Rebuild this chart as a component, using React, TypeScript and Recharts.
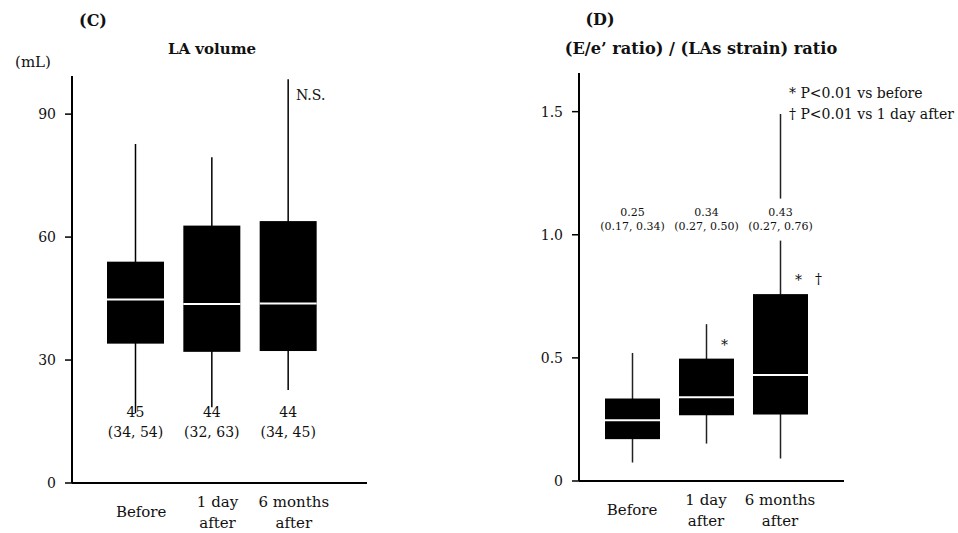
import { ComposedChart, Bar, XAxis, YAxis } from 'recharts';

const groups = ['Before', '1 day after', '6 months after'];
const groupLines = [['Before'], ['1 day', 'after'], ['6 months', 'after']];

// (C) LA volume, mL
const laMin = [17, 18.5, 22.7];
const laQ1 = [34, 32, 32.2];
const laMedian = [44.8, 43.7, 43.8];
const laQ3 = [54, 62.8, 63.9];
const laMax = [82.7, 79.5, 98.5];
const laMedianText = ['45', '44', '44'];
const laRangeText = ['(34, 54)', '(32, 63)', '(34, 45)'];
const laTicks = [0, 30, 60, 90];

// (D) (E/e' ratio) / (LAs strain) ratio
const ratioMin = [0.075, 0.152, 0.091];
const ratioQ1 = [0.17, 0.267, 0.27];
const ratioMedian = [0.247, 0.34, 0.43];
const ratioQ3 = [0.335, 0.497, 0.759];
const ratioMax = [0.52, 0.637, 1.49];
const ratioMedianText = ['0.25', '0.34', '0.43'];
const ratioRangeText = ['(0.17, 0.34)', '(0.27, 0.50)', '(0.27, 0.76)'];
const ratioMarks = ['', '*', '*'];
const ratioDagger = ['', '', '†'];
const ratioTicks = [0, 0.5, 1.0, 1.5];

const FONT = '"DejaVu Serif", serif';

const buildRows = (mins, q1s, meds, q3s, maxs, medTxt, rangeTxt, marks = [], daggers = []) =>
  groups.map((name, i) => ({
    name,
    range: [mins[i], maxs[i]],
    q1: q1s[i],
    median: meds[i],
    q3: q3s[i],
    medTxt: medTxt[i],
    rangeTxt: rangeTxt[i],
    mark: marks[i] || '',
    dagger: daggers[i] || '',
  }));

const laRows = buildRows(laMin, laQ1, laMedian, laQ3, laMax, laMedianText, laRangeText);
const ratioRows = buildRows(
  ratioMin, ratioQ1, ratioMedian, ratioQ3, ratioMax,
  ratioMedianText, ratioRangeText, ratioMarks, ratioDagger
);

const BoxShape = (props: any) => {
  const { x, y, width, height, payload, labelAt, labelFont, labelGap, labelBg, whiskerColor } = props;
  const top = Math.min(y, y + height);
  const h = Math.abs(height);
  const [lo, hi] = payload.range;
  const py = (v: number) => top + (h * (hi - v)) / (hi - lo);
  const cx = x + width / 2;
  const yq1 = py(payload.q1);
  const yq3 = py(payload.q3);
  const ym = py(payload.median);
  const yl = py(labelAt);
  return (
    <g>
      <line x1={cx} x2={cx} y1={py(hi)} y2={py(lo)} stroke={whiskerColor} strokeWidth={1.5} />
      <rect x={x} y={yq3} width={width} height={yq1 - yq3} fill="#000" />
      <line x1={x} x2={x + width} y1={ym} y2={ym} stroke="#fff" strokeWidth={2} />
      {labelBg && (
        <rect x={cx - 34} y={yl - 14} width={68} height={labelGap + 28} fill="#fff" />
      )}
      <text x={cx} y={yl} textAnchor="middle" dominantBaseline="central" fontFamily={FONT} fontSize={labelFont} fill="#111">
        {payload.medTxt}
      </text>
      <text x={cx} y={yl + labelGap} textAnchor="middle" dominantBaseline="central" fontFamily={FONT} fontSize={labelFont} fill="#111">
        {payload.rangeTxt}
      </text>
      {payload.mark && (
        <text x={cx + 18} y={yq3 - 9} textAnchor="middle" fontFamily={FONT} fontSize={14} fill="#111">
          {payload.mark}
        </text>
      )}
      {payload.dagger && (
        <text x={cx + 38} y={yq3 - 10} textAnchor="middle" fontFamily={FONT} fontSize={14} fill="#111">
          {payload.dagger}
        </text>
      )}
    </g>
  );
};

const GroupTick = (props: any) => {
  const { x, y, payload, shift = 0 } = props;
  const lines = groupLines[groups.indexOf(payload.value)] || [payload.value];
  const starts = lines.length === 1 ? [29] : [19, 40];
  return (
    <g>
      {lines.map((t, i) => (
        <text key={i} x={x + shift} y={y + starts[i]} textAnchor="middle" dominantBaseline="central" fontFamily={FONT} fontSize={15} fill="#111">
          {t}
        </text>
      ))}
    </g>
  );
};

const axisStyle = { stroke: '#000', strokeWidth: 2 };
const tickStyle = { fontFamily: FONT, fontSize: 14, fill: '#111' };

export default function App() {
  return (
    <div style={{ position: 'absolute', left: 0, top: 0, width: 958, height: 533, background: '#fff' }}>
      <div style={{ position: 'absolute', left: 0, top: 0 }}>
        <ComposedChart width={480} height={533} data={laRows} margin={{ top: 76, right: 113, bottom: 0, left: 0 }}>
          <XAxis
            dataKey="name"
            height={50}
            axisLine={axisStyle}
            tickLine={false}
            tickSize={0}
            tickMargin={0}
            interval={0}
            padding={{ left: 25, right: 41 }}
            tick={<GroupTick shift={6} />}
          />
          <YAxis
            width={72}
            domain={[0, 99.3]}
            ticks={laTicks}
            allowDataOverflow
            axisLine={axisStyle}
            tickLine={{ stroke: '#000', strokeWidth: 1.5 }}
            tickSize={7}
            tickMargin={9}
            tick={tickStyle}
          />
          <Bar
            dataKey="range"
            barSize={57}
            isAnimationActive={false}
            shape={(p: any) => (
              <BoxShape {...p} labelAt={17.3} labelFont={14} labelGap={20} labelBg={false} whiskerColor="#000" />
            )}
          />
        </ComposedChart>
      </div>
      <div style={{ position: 'absolute', left: 480, top: 0 }}>
        <ComposedChart width={478} height={533} data={ratioRows} margin={{ top: 73, right: 114, bottom: 0, left: 0 }}>
          <XAxis
            dataKey="name"
            height={52}
            axisLine={axisStyle}
            tickLine={false}
            tickSize={0}
            tickMargin={0}
            interval={0}
            padding={{ left: 16, right: 27 }}
            tick={<GroupTick shift={0} />}
          />
          <YAxis
            width={99}
            domain={[0, 1.657]}
            ticks={ratioTicks}
            allowDataOverflow
            axisLine={axisStyle}
            tickLine={{ stroke: '#000', strokeWidth: 1.5 }}
            tickSize={7}
            tickMargin={9}
            tick={tickStyle}
            tickFormatter={(v: number) => (v === 0 ? '0' : v.toFixed(1))}
          />
          <Bar
            dataKey="range"
            barSize={55}
            isAnimationActive={false}
            shape={(p: any) => (
              <BoxShape {...p} labelAt={1.09} labelFont={11} labelGap={14} labelBg whiskerColor="#222" />
            )}
          />
        </ComposedChart>
      </div>
      <svg width={958} height={533} style={{ position: 'absolute', left: 0, top: 0, pointerEvents: 'none' }}>
        <g fontFamily={FONT} fill="#111">
          <text x={93} y={20} textAnchor="middle" dominantBaseline="central" fontWeight="bold" fontSize={16}>(C)</text>
          <text x={212} y={49} textAnchor="middle" dominantBaseline="central" fontWeight="bold" fontSize={15}>LA volume</text>
          <text x={33} y={62} textAnchor="middle" dominantBaseline="central" fontSize={15}>(mL)</text>
          <text x={296} y={95} dominantBaseline="central" fontSize={14}>N.S.</text>
          <text x={600} y={19} textAnchor="middle" dominantBaseline="central" fontWeight="bold" fontSize={16}>(D)</text>
          <text x={701} y={48} textAnchor="middle" dominantBaseline="central" fontWeight="bold" fontSize={16.2}>(E/e’ ratio) / (LAs strain) ratio</text>
          <text x={789} y={93} dominantBaseline="central" fontSize={14}>* P&lt;0.01 vs before</text>
          <text x={789} y={114} dominantBaseline="central" fontSize={14}>† P&lt;0.01 vs 1 day after</text>
        </g>
      </svg>
    </div>
  );
}
